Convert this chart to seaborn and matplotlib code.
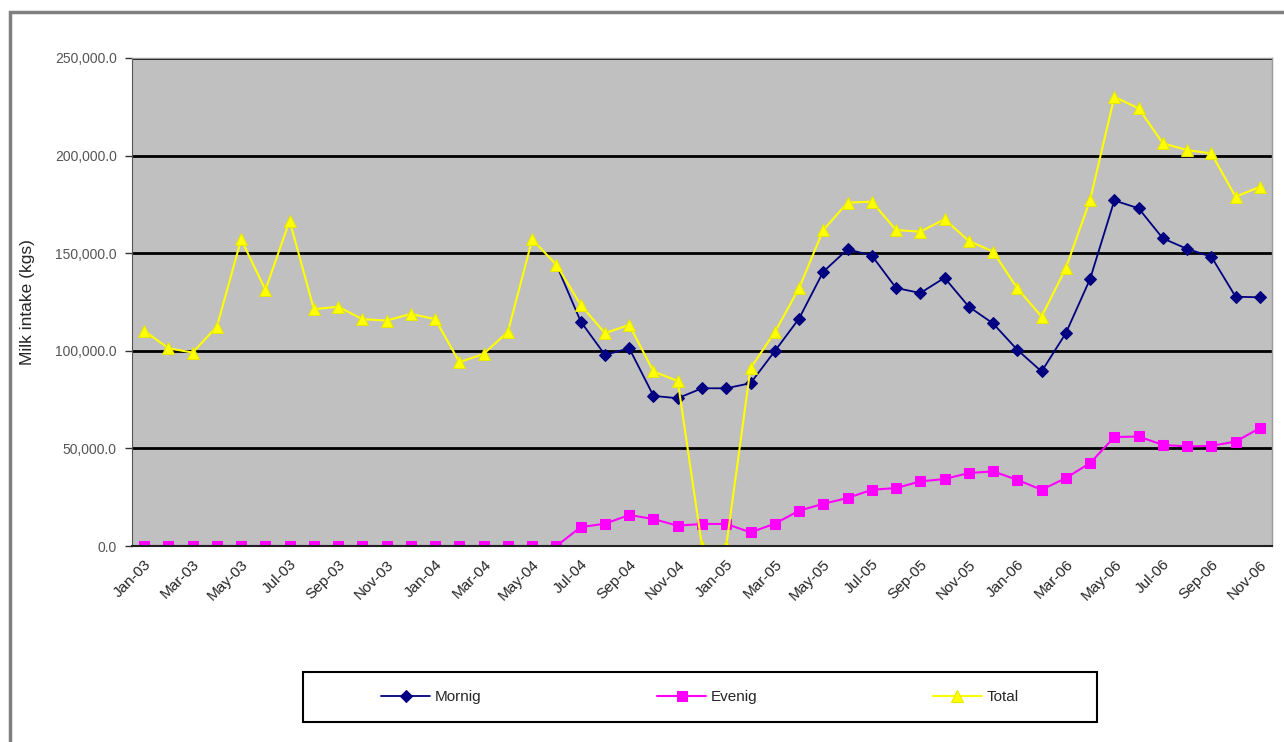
import numpy as np
import pandas as pd
import seaborn as sns
import matplotlib.pyplot as plt
from matplotlib.patches import Rectangle

# month labels, Jan-03 .. Nov-06 (47 months)
months = list(pd.date_range("2003-01-01", periods=47, freq="MS").strftime("%b-%y"))

# values, in thousands of kg
morning = [None] * 17 + [
    144.0, 115.0, 97.9, 101.3, 76.9, 75.7, 80.8, 80.8, 83.4, 99.8,
    116.5, 140.5, 152.0, 148.8, 132.2, 129.6, 137.4, 122.6, 114.0, 100.5,
    89.4, 109.0, 136.8, 177.0, 173.0, 157.6, 152.2, 148.2, 127.7, 127.4]
evening = [0.0] * 18 + [
    9.7, 11.4, 15.9, 13.8, 10.4, 11.3, 11.3, 7.0, 11.4, 18.1,
    21.6, 24.6, 28.8, 29.7, 33.1, 34.3, 37.4, 38.2, 33.9, 28.8,
    34.8, 42.5, 55.8, 56.1, 51.8, 51.0, 51.3, 53.5, 60.4]
total = [
    110.3, 101.3, 99.1, 112.4, 157.1, 131.2, 166.6, 121.3, 122.6, 116.2,
    115.5, 118.9, 116.2, 94.2, 98.4, 109.8, 157.1, 144.0, 123.5, 109.0,
    113.3, 89.4, 84.5, 0.0, 0.0, 91.1, 109.5, 132.0, 161.9, 175.9,
    176.4, 161.9, 161.0, 167.4, 156.3, 150.8, 132.0, 117.5, 142.3, 177.2,
    230.1, 224.2, 206.3, 202.8, 201.1, 178.9, 184.0]

df = pd.DataFrame({
    "idx": np.arange(len(months)),
    "Mornig": np.array(morning, dtype=float) * 1000,
    "Evenig": np.array(evening) * 1000,
    "Total": np.array(total) * 1000,
})

sns.set_style("white")
plt.rcParams["font.family"] = ["Liberation Sans", "DejaVu Sans"]

fig = plt.figure(figsize=(12.84, 7.42), dpi=100)
ax = fig.add_axes([132 / 1284, 1 - 546 / 742, 1140 / 1284, 488 / 742])
ax.set_facecolor("#c0c0c0")

m = df.dropna(subset=["Mornig"])
# first morning point sits under the total marker, so no marker there
sns.lineplot(data=m, x="idx", y="Mornig", ax=ax, color="#000080", lw=1.3,
             marker="D", markersize=6, markeredgecolor="#000080",
             markevery=list(range(1, len(m))), label="Mornig")
sns.lineplot(data=df, x="idx", y="Evenig", ax=ax, color="#ff00ff", lw=1.5,
             marker="s", markersize=7, markeredgecolor="#ff00ff", label="Evenig")
sns.lineplot(data=df, x="idx", y="Total", ax=ax, color="#ffff00", lw=1.5,
             marker="^", markersize=9, markeredgecolor="#e6e600", label="Total")

ax.set_xlim(-0.5, len(months) - 0.5)
ax.set_ylim(0, 250000)
ax.set_yticks(np.arange(0, 250001, 50000))
ax.yaxis.set_major_formatter(plt.FuncFormatter(lambda v, p: f"{v:,.1f}"))
ax.grid(axis="y", color="black", lw=2)
ax.set_axisbelow(True)

ax.set_xticks(np.arange(0, len(months), 2))
ax.set_xticklabels(months[::2], rotation=45, ha="right", rotation_mode="anchor",
                   fontsize=11)
ax.set_xticks(np.arange(1.5, len(months), 2), minor=True)
ax.tick_params(axis="x", which="major", length=0, pad=8)
ax.tick_params(axis="x", which="minor", length=6, width=1.2, color="#333333")
ax.tick_params(axis="y", length=5, width=1, color="#333333", labelsize=10,
               labelcolor="#555555", left=True, pad=6)

ax.set_xlabel("")
ax.set_ylabel("Milk intake (kgs)", fontsize=12.5, labelpad=14)

for side in ["top", "right"]:
    ax.spines[side].set_color("#9a9a9a")
    ax.spines[side].set_linewidth(1)
ax.spines["left"].set_color("#555555")
ax.spines["bottom"].set_color("#222222")
ax.spines["bottom"].set_linewidth(1.5)

ax.get_legend().remove()
handles, labels = ax.get_legend_handles_labels()
fig.legend(handles, labels, ncol=3, loc="center",
           bbox_to_anchor=(700 / 1284, 1 - 697 / 742), frameon=False,
           fontsize=11, handlelength=3.2, columnspacing=11.5, handletextpad=0.3)

# legend box
fig.patches.append(Rectangle((303 / 1284, 1 - 722 / 742), 794 / 1284, 50 / 742,
                             transform=fig.transFigure, fill=False,
                             edgecolor="black", lw=1.5))

# outer chart frame, cropped on the right and bottom
fig.patches.append(Rectangle((10 / 1284, -0.2), 1.2, 0.2 + 1 - 12 / 742,
                             transform=fig.transFigure, fill=False,
                             edgecolor="#808080", lw=2.5))

fig.savefig("out.png", dpi=100)
